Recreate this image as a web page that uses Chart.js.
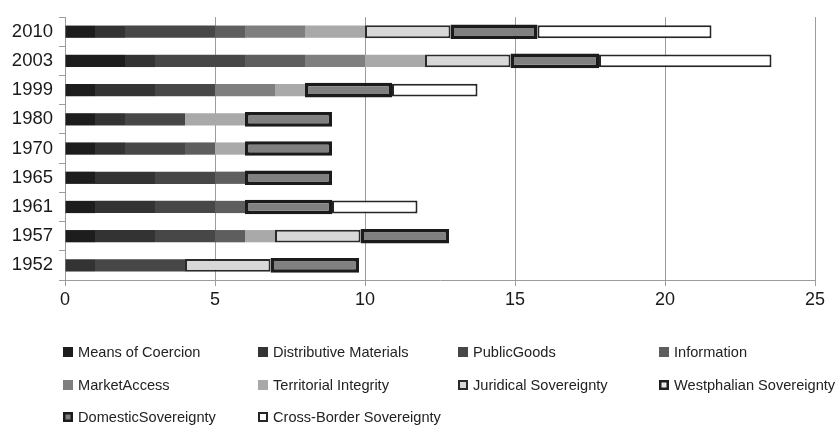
<!DOCTYPE html>
<html>
<head>
<meta charset="utf-8">
<script src="https://cdn.jsdelivr.net/npm/chart.js@4.4.1/dist/chart.umd.min.js"></script>
<style>
  html, body { margin: 0; padding: 0; background: #fff; }
  #wrap { width: 840px; height: 440px; position: relative; }
</style>
</head>
<body>
<div id="wrap"><canvas id="c" width="840" height="440"></canvas></div>
<script>
// Years, top to bottom
const years = ['2010', '2003', '1999', '1980', '1970', '1965', '1961', '1957', '1952'];

// Component scores per year
const meansOfCoercion        = [1, 2, 1, 1, 1, 1, 1, 1, 0];
const distributiveMaterials  = [1, 1, 2, 1, 1, 2, 2, 2, 1];
const publicGoods            = [3, 3, 2, 2, 2, 2, 2, 2, 3];
const information            = [1, 2, 0, 0, 1, 1, 1, 1, 0];
const marketAccess           = [2, 2, 2, 0, 0, 0, 0, 0, 0];
const territorialIntegrity   = [2, 2, 1, 2, 1, 0, 0, 1, 0];
const juridicalSovereignty   = [2.85, 2.85, 0, 0, 0, 0, 0, 2.85, 2.85];
const westphalianSovereignty = [0, 0, 0, 0, 0, 0, 0, 0, 0];
const domesticSovereignty    = [2.9, 2.95, 2.9, 2.9, 2.9, 2.9, 2.9, 2.95, 2.95];
const crossBorderSovereignty = [5.8, 5.75, 2.85, 0, 0, 0, 2.85, 0, 0];

// x-axis ticks
const xTicks = [0, 5, 10, 15, 20, 25];

const seriesNames = [
  'Means of Coercion', 'Distributive Materials', 'PublicGoods', 'Information',
  'MarketAccess', 'Territorial Integrity', 'Juridical Sovereignty',
  'Westphalian Sovereignty', 'DomesticSovereignty', 'Cross-Border Sovereignty'
];
const seriesValues = [
  meansOfCoercion, distributiveMaterials, publicGoods, information,
  marketAccess, territorialIntegrity, juridicalSovereignty,
  westphalianSovereignty, domesticSovereignty, crossBorderSovereignty
];

// Styling per series: fill, outline, outline width, bar thickness share
const styles = [
  { bg: '#1d1d1d', bc: '#1d1d1d', bw: 0, bp: 0.42 },
  { bg: '#333333', bc: '#333333', bw: 0, bp: 0.42 },
  { bg: '#474747', bc: '#474747', bw: 0, bp: 0.42 },
  { bg: '#5e5e5e', bc: '#5e5e5e', bw: 0, bp: 0.42 },
  { bg: '#7f7f7f', bc: '#7f7f7f', bw: 0, bp: 0.42 },
  { bg: '#a9a9a9', bc: '#a9a9a9', bw: 0, bp: 0.42 },
  { bg: '#d8d8d8', bc: '#2a2a2a', bw: 2, bp: 0.44 },
  { bg: '#e8e8e8', bc: '#1d1d1d', bw: 3.5, bp: 0.50 },
  { bg: '#808080', bc: '#1b1b1b', bw: 3.5, bp: 0.50 },
  { bg: '#ffffff', bc: '#262626', bw: 2, bp: 0.44 }
];

const datasets = seriesNames.map((name, i) => ({
  label: name,
  data: seriesValues[i].map(v => (v === 0 ? null : v)),
  backgroundColor: styles[i].bg,
  borderColor: styles[i].bc,
  borderWidth: styles[i].bw,
  borderSkipped: false,
  barPercentage: styles[i].bp,
  categoryPercentage: 1.0
}));

// Legend drawn as a fixed four-column grid under the plot
const gridLegend = {
  id: 'gridLegend',
  afterDraw(chart) {
    const ctx = chart.ctx;
    const cols = [63, 258, 458, 659];
    const rows = [352, 385, 417];
    ctx.save();
    ctx.font = '14.6px "Liberation Sans", Arial, sans-serif';
    ctx.textBaseline = 'middle';
    ctx.textAlign = 'left';
    chart.data.datasets.forEach((ds, i) => {
      const x = cols[i % 4];
      const y = rows[Math.floor(i / 4)];
      const s = 10;
      ctx.fillStyle = ds.backgroundColor;
      ctx.fillRect(x, y - s / 2, s, s);
      if (ds.borderWidth > 0) {
        const lw = Math.min(ds.borderWidth, 2.5);
        ctx.lineWidth = lw;
        ctx.strokeStyle = ds.borderColor;
        ctx.strokeRect(x + lw / 2, y - s / 2 + lw / 2, s - lw, s - lw);
      }
      ctx.fillStyle = '#222';
      ctx.fillText(ds.label, x + 15, y + 1);
    });
    ctx.restore();
  }
};

new Chart(document.getElementById('c'), {
  type: 'bar',
  data: { labels: years, datasets },
  options: {
    indexAxis: 'y',
    responsive: false,
    animation: false,
    layout: { padding: { left: 0, right: 25, top: 10, bottom: 130 } },
    plugins: {
      legend: { display: false },
      tooltip: { enabled: false }
    },
    scales: {
      x: {
        stacked: true,
        min: xTicks[0],
        max: xTicks[xTicks.length - 1],
        afterBuildTicks(scale) { scale.ticks = xTicks.map(v => ({ value: v })); },
        afterFit(scale) { scale.height = 30; },
        grid: { color: '#9c9c9c', lineWidth: 1, tickLength: 6, drawTicks: true },
        border: { color: '#9c9c9c', width: 1 },
        ticks: {
          color: '#1a1a1a',
          padding: 3,
          font: { family: '"Liberation Sans", Arial, sans-serif', size: 18 }
        }
      },
      y: {
        stacked: true,
        afterFit(scale) { scale.width = 65; },
        grid: { drawOnChartArea: false, color: '#9c9c9c', tickLength: 6, offset: true },
        border: { color: '#9c9c9c', width: 1 },
        ticks: {
          color: '#1a1a1a',
          padding: 6,
          font: { family: '"Liberation Sans", Arial, sans-serif', size: 18.5 }
        }
      }
    }
  },
  plugins: [gridLegend]
});
</script>
</body>
</html>
